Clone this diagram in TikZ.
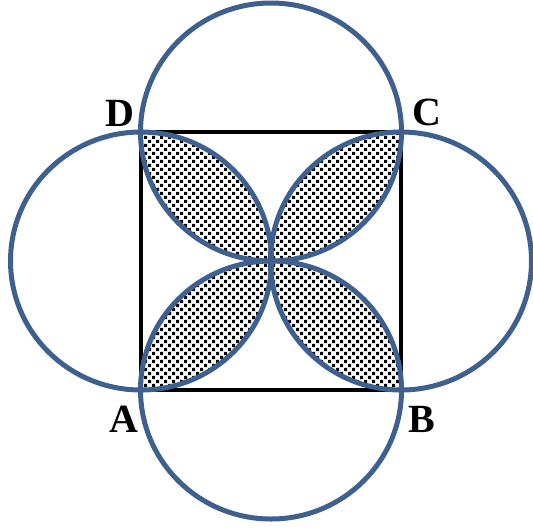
\documentclass[tikz,border=0pt]{standalone}
\usepackage{fontspec}
\setmainfont{Liberation Serif}
\usepackage{tikz}
\usetikzlibrary{patterns}
\definecolor{arcblue}{RGB}{62,96,142}
\pgfdeclarepatternformonly{squaredots}{\pgfqpoint{-1pt}{-1pt}}{\pgfqpoint{9pt}{9pt}}{\pgfqpoint{8pt}{8pt}}{%
  \pgfpathrectangle{\pgfqpoint{0pt}{0pt}}{\pgfqpoint{3.2pt}{3.2pt}}%
  \pgfpathrectangle{\pgfqpoint{4pt}{4pt}}{\pgfqpoint{3.2pt}{3.2pt}}%
  \pgfusepath{fill}}
\tikzset{
  arc/.style={draw=arcblue, line width=5pt},
  side/.style={draw=black, line width=3.5pt},
  lens/.style={pattern=squaredots, pattern color=black},
  corner/.style={font=\fontsize{40}{40}\selectfont\bfseries, inner sep=0pt},
  half/.style={x radius=130.5, y radius=129},
}
\begin{document}
\begin{tikzpicture}[x=1pt,y=-1pt]
  \useasboundingbox (0,0) rectangle (533,531);
  % corners of the square
  \coordinate (A) at (141,390);
  \coordinate (B) at (401,390);
  \coordinate (C) at (401,132);
  \coordinate (D) at (141,132);
  % midpoints of the sides
  \coordinate (ml) at (141,261);
  \coordinate (mr) at (401,261);
  \coordinate (mt) at (271,132);
  \coordinate (mb) at (271,390);
  % shaded lenses
  \begin{scope}
    \clip (ml) ellipse [half];
    \fill[lens] (mt) ellipse [half];
    \fill[lens] (mb) ellipse [half];
  \end{scope}
  \begin{scope}
    \clip (mr) ellipse [half];
    \fill[lens] (mt) ellipse [half];
    \fill[lens] (mb) ellipse [half];
  \end{scope}
  % square
  \draw[side] (A) -- (B) -- (C) -- (D) -- cycle;
  % circles on the sides
  \draw[arc] (ml) ellipse [half];
  \draw[arc] (mr) ellipse [half];
  \draw[arc] (mt) ellipse [half];
  \draw[arc] (mb) ellipse [half];
  % labels
  \node[corner] (lA) at (124,419) {A};
  \node[corner] (lB) at (422,419) {B};
  \node[corner] (lC) at (427,112) {C};
  \node[corner] (lD) at (120,113) {D};
\end{tikzpicture}
\end{document}
